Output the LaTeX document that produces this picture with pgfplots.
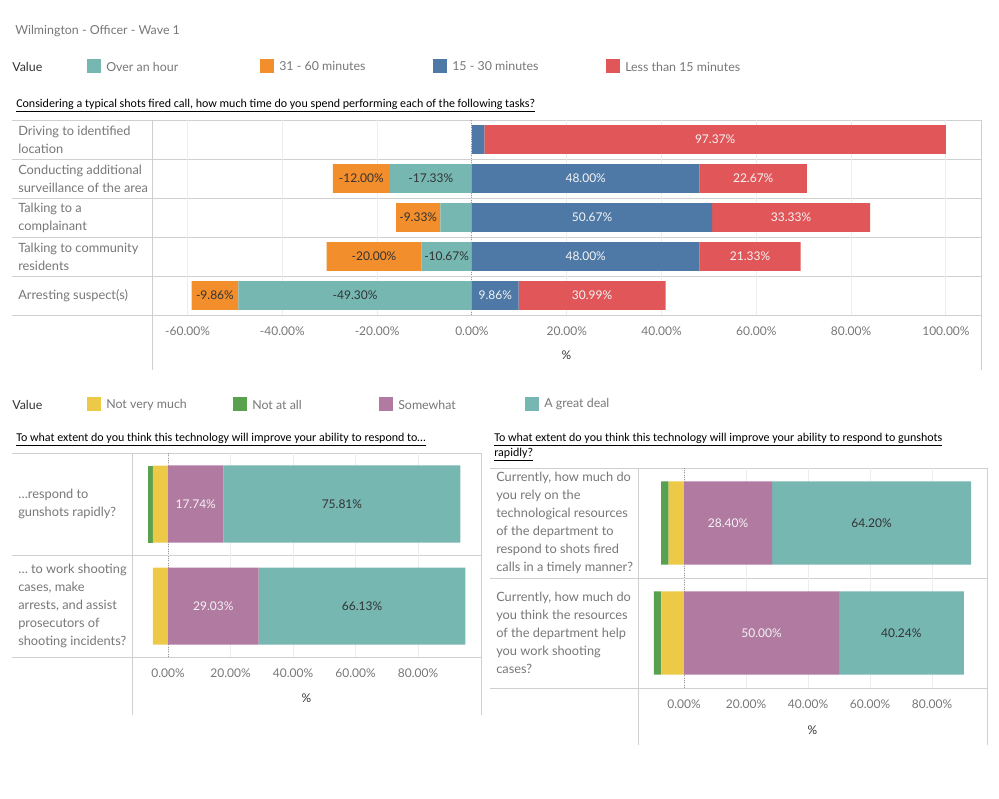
\documentclass[border=0pt]{standalone}
\usepackage{fontspec}
\setmainfont{Lato}
\newfontfamily\calibri{Carlito}
\usepackage{pgfplots}
\usepackage{pgfplotstable}
\pgfplotsset{compat=1.18}

\definecolor{cteal}{HTML}{76B7B2}
\definecolor{corange}{HTML}{F28E2B}
\definecolor{cblue}{HTML}{4E79A7}
\definecolor{cred}{HTML}{E15759}
\definecolor{cyellow}{HTML}{EDC948}
\definecolor{cgreen}{HTML}{59A14F}
\definecolor{cpurple}{HTML}{B07AA1}
\definecolor{framec}{HTML}{CFCFCF}
\definecolor{gridc}{HTML}{EDEDED}
\definecolor{labc}{HTML}{777777}
\definecolor{darktxt}{HTML}{333333}
\definecolor{lighttxt}{HTML}{F4F4F4}

\newcommand\fnt{\fontsize{9}{13.5}\selectfont}
\newcommand\lfnt{\fontsize{9.3}{13.5}\selectfont}
\newcommand\rfnt{\fontsize{9.6}{13.5}\selectfont}
\newcommand\tfnt{\calibri\fontsize{9}{11.5}\selectfont}

\pgfplotsset{
  seg/.style n args={3}{fill=#2, draw=none,
    point meta=explicit symbolic,
    nodes near coords,
    every node near coord/.append style={anchor=center, text=#3, font=\fnt, inner sep=0pt}},
  tabl/.style={scale only axis, xbar stacked, axis line style={draw=none}, major tick length=0pt,
    xmajorgrids, major grid style={gridc, line width=0.75pt},
    extra x ticks={0}, extra x tick labels={},
    extra x tick style={major grid style={densely dotted, black!40, line width=0.75pt}},
    xticklabel={\pgfmathprintnumber[fixed,zerofill,precision=2]{\tick}\%},
    xticklabel style={anchor=center, yshift=-12pt, font=\fnt, text=labc},
    xlabel={\%},
    xlabel style={at={(axis description cs:0.5,0)}, anchor=center, font=\fnt, text=darktxt},
    yticklabel style={anchor=west, align=left, font=\rfnt, text=labc, inner sep=0pt},
    /pgf/number format/assume math mode=true,
  },
  overlay axis/.style={scale only axis, xbar stacked, hide axis},
  topgeom/.style={at={(152*0.75pt,-120*0.75pt)}, anchor=north west,
    width=829*0.75pt, height=195*0.75pt,
    bar width=0.74, ymin=-0.5, ymax=4.5, xmin=-67.5, xmax=107.4},
  leftgeom/.style={at={(132*0.75pt,-453*0.75pt)}, anchor=north west,
    width=349*0.75pt, height=204*0.75pt,
    bar width=0.755, ymin=-0.5, ymax=1.5, xmin=-11.52, xmax=100.16},
  rightgeom/.style={at={(638*0.75pt,-468*0.75pt)}, anchor=north west,
    width=349*0.75pt, height=220*0.75pt,
    bar width=0.755, ymin=-0.5, ymax=1.5, xmin=-14.84, xmax=97.74},
}

% Time spent on each task (%); negative = longer durations; l* = printed labels
\pgfplotstableread{
y  over    m3160   m1530  lt15   lo        lm        lb       lr
4  0       0       2.63   97.37  {}        {}        {}       97.37\%
3  -17.33  -12.00  48.00  22.67  -17.33\%  -12.00\%  48.00\%  22.67\%
2  -6.67   -9.33   50.67  33.33  {}        -9.33\%   50.67\%  33.33\%
1  -10.67  -20.00  48.00  21.33  -10.67\%  -20.00\%  48.00\%  21.33\%
0  -49.30  -9.86   9.86   30.99  -49.30\%  -9.86\%   9.86\%   30.99\%
}\timetable

\pgfplotstableread{
y  nvm    naa    some   great  ln   la   ls        lg
1  -4.84  -1.61  17.74  75.81  {}   {}   17.74\%   75.81\%
0  -4.84  0      29.03  66.13  {}   {}   29.03\%   66.13\%
}\leftable

\pgfplotstableread{
y  nvm    naa    some   great  ln   la   ls        lg
1  -4.94  -2.47  28.40  64.20  {}   {}   28.40\%   64.20\%
0  -7.32  -2.44  50.00  40.24  {}   {}   50.00\%   40.24\%
}\rightable

\newcommand\legitem[4]{%
  \fill[#3] (#1,#2-7) rectangle (#1+14,#2+7);
  \node[anchor=west, inner sep=0pt, font=\lfnt, text=labc] at (#1+19,#2+0.5) {#4};}

\begin{document}
\begin{tikzpicture}
\path[use as bounding box] (0,0) rectangle (999*0.75pt,-799*0.75pt);
\begin{scope}[x=0.75pt,y=-0.75pt]
  % titles
  \node[anchor=west, inner sep=0pt, font=\lfnt, text=labc] at (15,31) {Wilmington - Officer - Wave 1};
  \node[anchor=west, inner sep=0pt, font=\lfnt, text=darktxt] at (12,67) {Value};
  \legitem{87}{66}{cteal}{Over an hour}
  \legitem{260}{66}{corange}{31 - 60 minutes}
  \legitem{433}{66}{cblue}{15 - 30 minutes}
  \legitem{606}{66}{cred}{Less than 15 minutes}
  \node[anchor=west, inner sep=0pt, font=\tfnt] at (16,106) {\underline{Considering a typical shots fired call, how much time do you spend performing each of the following tasks?}};

  \node[anchor=west, inner sep=0pt, font=\lfnt, text=darktxt] at (12,405) {Value};
  \legitem{87}{404}{cyellow}{Not very much}
  \legitem{233}{404}{cgreen}{Not at all}
  \legitem{379}{404}{cpurple}{Somewhat}
  \legitem{525}{404}{cteal}{A great deal}
  \node[anchor=west, inner sep=0pt, font=\tfnt] at (16,440) {\underline{To what extent do you think this technology will improve your ability to respond to\ldots}};
  \node[anchor=west, inner sep=0pt, font=\tfnt] at (494,440) {\underline{To what extent do you think this technology will improve your ability to respond to gunshots}};
  \node[anchor=west, inner sep=0pt, font=\tfnt] at (494,455) {\underline{rapidly?}};

  % frames
  \begin{scope}[draw=framec, line width=0.75pt]
    \foreach \yy in {120,159,198,237,276,315} \draw (12,\yy) -- (981,\yy);
    \draw (152,120) -- (152,370); \draw (981,120) -- (981,370);
    \foreach \yy in {453,555,657} \draw (12,\yy) -- (481,\yy);
    \draw (132,453) -- (132,715); \draw (481,453) -- (481,715);
    \foreach \yy in {468,578,688} \draw (490,\yy) -- (987,\yy);
    \draw (638,468) -- (638,745); \draw (987,468) -- (987,745);
  \end{scope}
\end{scope}

% top chart: negative stack with axes
\begin{axis}[tabl, topgeom,
  xtick={-60,-40,...,100},
  xlabel style={yshift=-30pt},
  ytick={0,...,4},
  yticklabels={{Arresting suspect(s)},{Talking to community\\residents},{Talking to a\\complainant},{Conducting additional\\surveillance of the area},{Driving to identified\\location}},
  yticklabel style={xshift=-100.5pt},
]
\addplot[seg={over}{cteal}{darktxt}] table[x=over,y=y,meta=lo] {\timetable};
\addplot[seg={m3160}{corange}{darktxt}] table[x=m3160,y=y,meta=lm] {\timetable};
\end{axis}
% top chart: positive stack
\begin{axis}[overlay axis, topgeom]
\addplot[seg={m1530}{cblue}{lighttxt}] table[x=m1530,y=y,meta=lb] {\timetable};
\addplot[seg={lt15}{cred}{lighttxt}] table[x=lt15,y=y,meta=lr] {\timetable};
\end{axis}

% bottom left
\begin{axis}[tabl, leftgeom,
  xtick={0,20,...,80},
  xlabel style={yshift=-30.75pt},
  ytick={0,1},
  yticklabels={{\ldots{} to work shooting\\cases, make\\arrests, and assist\\prosecutors of\\shooting incidents?},{\ldots{}respond to\\gunshots rapidly?}},
  yticklabel style={xshift=-85.5pt},
]
\addplot[seg={nvm}{cyellow}{darktxt}] table[x=nvm,y=y,meta=ln] {\leftable};
\addplot[seg={naa}{cgreen}{darktxt}] table[x=naa,y=y,meta=la] {\leftable};
\end{axis}
\begin{axis}[overlay axis, leftgeom]
\addplot[seg={some}{cpurple}{lighttxt}] table[x=some,y=y,meta=ls] {\leftable};
\addplot[seg={great}{cteal}{darktxt}] table[x=great,y=y,meta=lg] {\leftable};
\end{axis}

% bottom right
\begin{axis}[tabl, rightgeom,
  xtick={0,20,...,80},
  xlabel style={yshift=-31.5pt},
  ytick={0,1},
  yticklabels={{Currently, how much do\\you think the resources\\of the department help\\you work shooting\\cases?},{Currently, how much do\\you rely on the\\technological resources\\of the department to\\respond to shots fired\\calls in a timely manner?}},
  yticklabel style={xshift=-106.5pt},
]
\addplot[seg={nvm}{cyellow}{darktxt}] table[x=nvm,y=y,meta=ln] {\rightable};
\addplot[seg={naa}{cgreen}{darktxt}] table[x=naa,y=y,meta=la] {\rightable};
\end{axis}
\begin{axis}[overlay axis, rightgeom]
\addplot[seg={some}{cpurple}{lighttxt}] table[x=some,y=y,meta=ls] {\rightable};
\addplot[seg={great}{cteal}{darktxt}] table[x=great,y=y,meta=lg] {\rightable};
\end{axis}
\end{tikzpicture}
\end{document}
